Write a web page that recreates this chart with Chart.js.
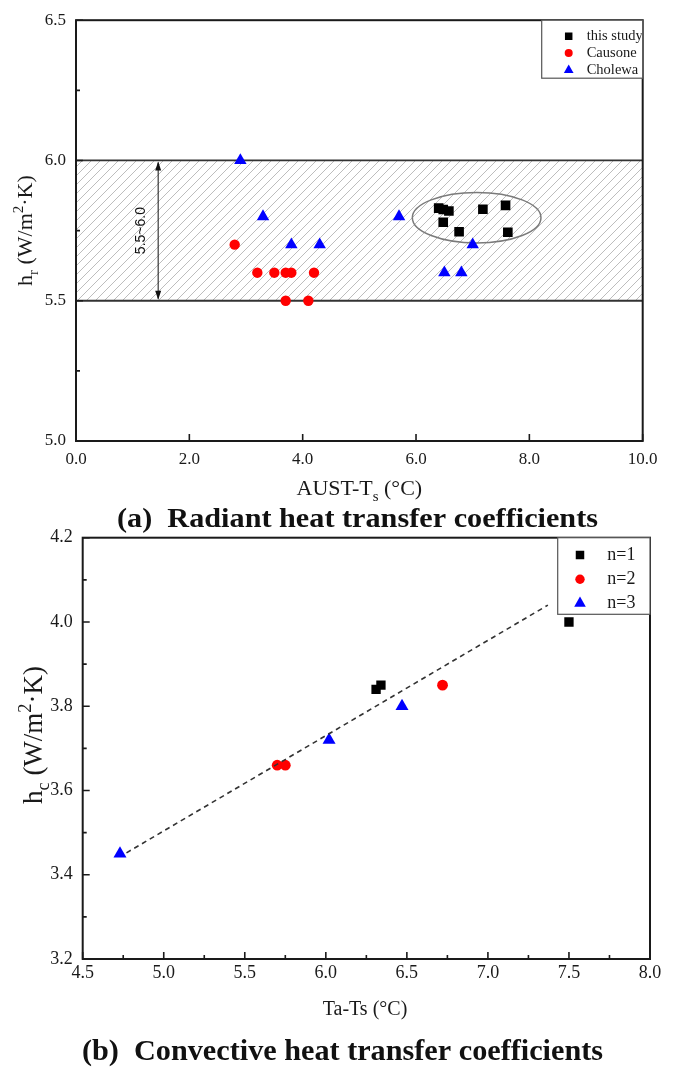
<!DOCTYPE html>
<html>
<head>
<meta charset="utf-8">
<script src="https://cdn.jsdelivr.net/npm/chart.js@4.4.1/dist/chart.umd.min.js"></script>
<style>
  body { margin: 0; background: #fff; }
  #wrap { position: relative; width: 675px; height: 1067px; background: #fff; }
  canvas { position: absolute; left: 0; }
</style>
</head>
<body>
<div id="wrap">
  <canvas id="chartA" style="top:0px;width:675px;height:535px" width="675" height="535"></canvas>
  <canvas id="chartB" style="top:500px;width:675px;height:567px" width="675" height="567"></canvas>
</div>
<script>
// ---- (a) radiant heat transfer coefficient data ----
const studyX   = [6.4, 6.48, 6.58, 6.48, 6.76, 7.18, 7.58, 7.62];
const studyY   = [5.83, 5.825, 5.82, 5.78, 5.746, 5.826, 5.84, 5.744];
const causoneX = [2.8, 3.2, 3.5, 3.7, 3.8, 4.2, 3.7, 4.1];
const causoneY = [5.7, 5.6, 5.6, 5.6, 5.6, 5.6, 5.5, 5.5];
const cholewaX = [2.9, 3.3, 3.8, 4.3, 5.7, 7.0, 6.5, 6.8];
const cholewaY = [6.0, 5.8, 5.7, 5.7, 5.8, 5.7, 5.6, 5.6];
const bandLow = 5.5, bandHigh = 6.0;
const radiantMinorY = [5.25, 5.75, 6.25];

// ---- (b) convective heat transfer coefficient data ----
const n1X = [6.31, 6.34, 7.5];
const n1Y = [3.84, 3.85, 4.0];
const n2X = [5.7, 5.75, 6.72];
const n2Y = [3.66, 3.66, 3.85];
const n3X = [4.73, 6.02, 6.47];
const n3Y = [3.45, 3.72, 3.80];
const fitX = [4.77, 7.37];
const fitY = [3.452, 4.04];
const convMinorX = [4.75, 5.25, 5.75, 6.25, 6.75, 7.25, 7.75];
const convMinorY = [3.3, 3.5, 3.7, 3.9, 4.1];

const SERIF = '"Liberation Serif", "Times New Roman", serif';
const SANS = '"Liberation Sans", Arial, sans-serif';

const pts = (xs, ys) => xs.map((x, i) => ({ x: x, y: ys[i] }));

function marker(ctx, style, x, y, r, color) {
  ctx.save();
  ctx.fillStyle = color;
  ctx.beginPath();
  if (style === 'rect') {
    const s = r * Math.SQRT1_2;
    ctx.rect(x - s, y - s, 2 * s, 2 * s);
  } else if (style === 'circle') {
    ctx.arc(x, y, r, 0, Math.PI * 2);
  } else {
    ctx.moveTo(x, y - r);
    ctx.lineTo(x + r * 0.866, y + r * 0.5);
    ctx.lineTo(x - r * 0.866, y + r * 0.5);
    ctx.closePath();
  }
  ctx.fill();
  ctx.restore();
}

// text with sub/superscripts, centred at (x, y) on the baseline
function richText(ctx, parts, x, y, size, rotate) {
  ctx.save();
  ctx.translate(x, y);
  if (rotate) ctx.rotate(-Math.PI / 2);
  ctx.fillStyle = '#1a1a1a';
  ctx.textBaseline = 'alphabetic';
  ctx.textAlign = 'left';
  let total = 0;
  parts.forEach(p => {
    const fs = p.sub || p.sup ? size * 0.68 : size;
    ctx.font = fs + 'px ' + SERIF;
    p.w = ctx.measureText(p.t).width;
    total += p.w;
  });
  let cx = -total / 2;
  parts.forEach(p => {
    const fs = p.sub || p.sup ? size * 0.68 : size;
    ctx.font = fs + 'px ' + SERIF;
    const dy = p.sub ? size * 0.25 : p.sup ? -size * 0.42 : 0;
    ctx.fillText(p.t, cx, dy);
    cx += p.w;
  });
  ctx.restore();
}

// bold caption stretched to the width it takes in the figure
function caption(ctx, text, x, y, size, width) {
  ctx.save();
  ctx.font = 'bold ' + size + 'px ' + SERIF;
  ctx.fillStyle = '#111';
  ctx.textBaseline = 'alphabetic';
  const w = ctx.measureText(text).width;
  ctx.translate(x, y);
  ctx.scale(width / w, 1);
  ctx.fillText(text, 0, 0);
  ctx.restore();
}

function drawAxesFrame(chart, minorX, minorY) {
  const { ctx, chartArea: a, scales: { x, y } } = chart;
  ctx.save();
  ctx.strokeStyle = '#1a1a1a';
  ctx.lineWidth = 1.6;
  ctx.beginPath();
  x.ticks.forEach(t => {
    const px = x.getPixelForValue(t.value);
    ctx.moveTo(px, a.bottom); ctx.lineTo(px, a.bottom - 7);
  });
  minorX.forEach(v => {
    const px = x.getPixelForValue(v);
    ctx.moveTo(px, a.bottom); ctx.lineTo(px, a.bottom - 4);
  });
  y.ticks.forEach(t => {
    const py = y.getPixelForValue(t.value);
    ctx.moveTo(a.left, py); ctx.lineTo(a.left + 7, py);
  });
  minorY.forEach(v => {
    const py = y.getPixelForValue(v);
    ctx.moveTo(a.left, py); ctx.lineTo(a.left + 4, py);
  });
  ctx.stroke();
  ctx.lineWidth = 2;
  ctx.strokeRect(a.left, a.top, a.right - a.left, a.bottom - a.top);
  ctx.restore();
}

function drawLegend(ctx, box, items, font, mx, tx, rows) {
  ctx.save();
  ctx.fillStyle = '#fff';
  ctx.fillRect(box.x, box.y, box.w, box.h);
  ctx.strokeStyle = '#555';
  ctx.lineWidth = 1.2;
  ctx.strokeRect(box.x, box.y, box.w, box.h);
  ctx.beginPath();
  ctx.rect(box.x, box.y, box.w - 1, box.h);
  ctx.clip();
  ctx.font = font;
  ctx.fillStyle = '#1a1a1a';
  ctx.textBaseline = 'middle';
  items.forEach((it, i) => {
    marker(ctx, it.style, box.x + mx, box.y + rows[i], it.r, it.color);
    ctx.fillText(it.label, box.x + tx, box.y + rows[i]);
  });
  ctx.restore();
}

function fixAxes(yWidth, xHeight) {
  return {
    y: (s) => { s.width = yWidth; },
    x: (s) => { s.height = xHeight; }
  };
}

// ---------------- chart (a) ----------------
const fitA = fixAxes(50, 30);
const radiantDecor = {
  id: 'radiantDecor',
  beforeDatasetsDraw(chart) {
    const { ctx, chartArea: a, scales: { x, y } } = chart;
    const yHi = y.getPixelForValue(bandHigh);
    const yLo = y.getPixelForValue(bandLow);
    // hatched band
    const pc = document.createElement('canvas');
    pc.width = 9; pc.height = 9;
    const p = pc.getContext('2d');
    p.strokeStyle = '#bdbdbd';
    p.lineWidth = 1;
    p.beginPath();
    p.moveTo(-1, 10); p.lineTo(10, -1);
    p.moveTo(-1, 1); p.lineTo(1, -1);
    p.moveTo(8, 10); p.lineTo(10, 8);
    p.stroke();
    ctx.save();
    ctx.fillStyle = ctx.createPattern(pc, 'repeat');
    ctx.fillRect(a.left, yHi, a.right - a.left, yLo - yHi);
    ctx.strokeStyle = '#333';
    ctx.lineWidth = 1.8;
    ctx.beginPath();
    ctx.moveTo(a.left, yHi); ctx.lineTo(a.right, yHi);
    ctx.moveTo(a.left, yLo); ctx.lineTo(a.right, yLo);
    ctx.stroke();
    // double arrow
    const ax = x.getPixelForValue(1.45);
    ctx.strokeStyle = '#111';
    ctx.fillStyle = '#111';
    ctx.lineWidth = 1;
    ctx.beginPath();
    ctx.moveTo(ax, yHi + 2); ctx.lineTo(ax, yLo - 2);
    ctx.stroke();
    ctx.beginPath();
    ctx.moveTo(ax, yHi + 1); ctx.lineTo(ax - 3, yHi + 10); ctx.lineTo(ax + 3, yHi + 10); ctx.closePath();
    ctx.moveTo(ax, yLo - 1); ctx.lineTo(ax - 3, yLo - 10); ctx.lineTo(ax + 3, yLo - 10); ctx.closePath();
    ctx.fill();
    ctx.translate(ax - 13, (yHi + yLo) / 2);
    ctx.rotate(-Math.PI / 2);
    ctx.font = '14px ' + SANS;
    ctx.textAlign = 'center';
    ctx.textBaseline = 'alphabetic';
    ctx.fillText('5.5~6.0', 0, 0);
    ctx.restore();
    // ellipse around this study's points
    ctx.save();
    const ex = x.getPixelForValue(7.07), ey = y.getPixelForValue(5.796);
    const rx = x.getPixelForValue(7.07 + 1.135) - ex;
    const ry = y.getPixelForValue(5.796) - y.getPixelForValue(5.796 + 0.09);
    ctx.strokeStyle = '#7a7a7a';
    ctx.lineWidth = 1.5;
    ctx.beginPath();
    ctx.ellipse(ex, ey, rx, ry, 0, 0, Math.PI * 2);
    ctx.stroke();
    ctx.restore();
  },
  afterDraw(chart) {
    const { ctx, chartArea: a } = chart;
    drawAxesFrame(chart, [], radiantMinorY);
    drawLegend(ctx, { x: a.right - 101, y: a.top, w: 101, h: 58 }, [
      { label: 'this study', style: 'rect', r: 5.3, color: '#000' },
      { label: 'Causone', style: 'circle', r: 4, color: '#ff0000' },
      { label: 'Cholewa', style: 'triangle', r: 5.6, color: '#0000ff' }
    ], '14.5px ' + SERIF, 27, 45, [16, 32.7, 50]);
    richText(ctx, [{ t: 'h' }, { t: 'r', sub: true }, { t: ' (W/m' }, { t: '2', sup: true }, { t: '·K)' }],
      32, (a.top + a.bottom) / 2, 22, true);
    richText(ctx, [{ t: 'AUST-T' }, { t: 's', sub: true }, { t: ' (°C)' }],
      (a.left + a.right) / 2, 495, 22, false);
    caption(ctx, '(a)  Radiant heat transfer coefficients', 117, 527, 28, 481);
  }
};

new Chart(document.getElementById('chartA'), {
  type: 'scatter',
  data: {
    datasets: [
      { label: 'this study', data: pts(studyX, studyY), pointStyle: 'rect', pointRadius: 6.8,
        backgroundColor: '#000', borderWidth: 0 },
      { label: 'Causone', data: pts(causoneX, causoneY), pointStyle: 'circle', pointRadius: 5.2,
        backgroundColor: '#ff0000', borderWidth: 0 },
      { label: 'Cholewa', data: pts(cholewaX, cholewaY), pointStyle: 'triangle', pointRadius: 7.2,
        backgroundColor: '#0000ff', borderWidth: 0 }
    ]
  },
  options: {
    responsive: false,
    animation: false,
    layout: { padding: { left: 26, top: 20, right: 32.3, bottom: 64 } },
    plugins: { legend: { display: false }, tooltip: { enabled: false } },
    scales: {
      x: {
        min: 0, max: 10,
        afterFit: fitA.x,
        grid: { display: false, drawTicks: false },
        border: { display: false },
        ticks: { stepSize: 2, padding: 8, color: '#1a1a1a', font: { family: SERIF, size: 17 },
          callback: v => Number(v).toFixed(1) }
      },
      y: {
        min: 5, max: 6.5,
        afterFit: fitA.y,
        grid: { display: false, drawTicks: false },
        border: { display: false },
        ticks: { stepSize: 0.5, padding: 10, color: '#1a1a1a', font: { family: SERIF, size: 17 },
          callback: v => Number(v).toFixed(1) }
      }
    }
  },
  plugins: [radiantDecor]
});

// ---------------- chart (b) ----------------
const fitB = fixAxes(50, 30);
const convDecor = {
  id: 'convDecor',
  afterDraw(chart) {
    const { ctx, chartArea: a } = chart;
    drawAxesFrame(chart, convMinorX, convMinorY);
    drawLegend(ctx, { x: a.right - 92.3, y: a.top, w: 92.3, h: 76.6 }, [
      { label: 'n=1', style: 'rect', r: 6, color: '#000' },
      { label: 'n=2', style: 'circle', r: 4.7, color: '#ff0000' },
      { label: 'n=3', style: 'triangle', r: 6.7, color: '#0000ff' }
    ], '18px ' + SERIF, 22.3, 49.6, [17.3, 41.6, 65.6]);
    richText(ctx, [{ t: 'h' }, { t: 'c', sub: true }, { t: ' (W/m' }, { t: '2', sup: true }, { t: '·K)' }],
      42, 235, 27, true);
    richText(ctx, [{ t: 'Ta-Ts (°C)' }], 365, 515, 20, false);
    caption(ctx, '(b)  Convective heat transfer coefficients', 82, 560, 29, 521);
  }
};

new Chart(document.getElementById('chartB'), {
  type: 'scatter',
  data: {
    datasets: [
      { label: 'fit', data: pts(fitX, fitY), showLine: true, pointRadius: 0,
        borderColor: '#333', borderWidth: 1.6, borderDash: [5, 4], fill: false },
      { label: 'n=1', data: pts(n1X, n1Y), pointStyle: 'rect', pointRadius: 6.6,
        backgroundColor: '#000', borderWidth: 0 },
      { label: 'n=2', data: pts(n2X, n2Y), pointStyle: 'circle', pointRadius: 5.4,
        backgroundColor: '#ff0000', borderWidth: 0 },
      { label: 'n=3', data: pts(n3X, n3Y), pointStyle: 'triangle', pointRadius: 7.5,
        backgroundColor: '#0000ff', borderWidth: 0 }
    ]
  },
  options: {
    responsive: false,
    animation: false,
    layout: { padding: { left: 32.7, top: 37.7, right: 25, bottom: 78 } },
    plugins: { legend: { display: false }, tooltip: { enabled: false } },
    scales: {
      x: {
        min: 4.5, max: 8,
        afterFit: fitB.x,
        grid: { display: false, drawTicks: false },
        border: { display: false },
        ticks: { stepSize: 0.5, padding: 3, color: '#1a1a1a', font: { family: SERIF, size: 18 },
          callback: v => Number(v).toFixed(1) }
      },
      y: {
        min: 3.2, max: 4.2,
        afterFit: fitB.y,
        grid: { display: false, drawTicks: false },
        border: { display: false },
        ticks: { stepSize: 0.2, padding: 10, color: '#1a1a1a', font: { family: SERIF, size: 18 },
          callback: v => Number(v).toFixed(1) }
      }
    }
  },
  plugins: [convDecor]
});
</script>
</body>
</html>
